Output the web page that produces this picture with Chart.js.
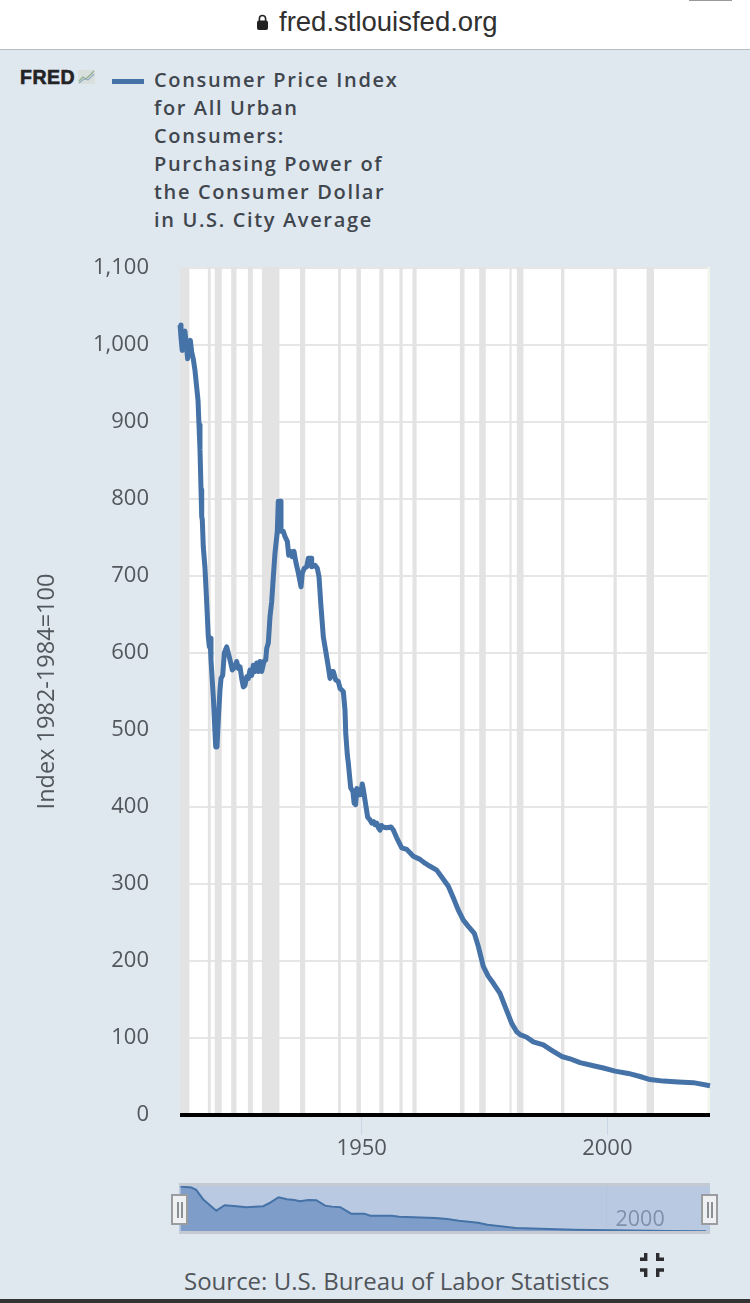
<!DOCTYPE html>
<html>
<head>
<meta charset="utf-8">
<title>FRED - Purchasing Power of the Consumer Dollar</title>
<script src="https://cdn.jsdelivr.net/npm/chart.js@4"></script>
<style>
  html, body { margin: 0; padding: 0; }
  body { width: 750px; height: 1303px; background: #dfe7ef; position: relative; overflow: hidden; font-family: "Open Sans", sans-serif; }
  .abs { position: absolute; }
  #topbar { left: 0; top: 0; width: 750px; height: 49px; background: #fff; border-bottom: 1px solid #b9bcbf; }
  #url { left: 279px; top: 6px; font: 27.5px/32px "Liberation Sans", sans-serif; color: #303030; white-space: nowrap; }
  #fred { left: 20px; top: 65px; font: bold 19.5px/24px "Liberation Sans", sans-serif; letter-spacing: 0.5px; -webkit-text-stroke: 0.6px #232326; color: #232326; }
  #legendLine { left: 112px; top: 78.5px; width: 32px; height: 5px; background: #4572a7; }
  #legendText { left: 154px; top: 66px; font: 600 20px/28px "Open Sans", sans-serif; letter-spacing: 1.65px; color: #3f464d; white-space: nowrap; }
  #mainChart { left: 0; top: 0; }
  #navBox { left: 179px; top: 1183px; width: 531px; height: 51px; background: #b9c9e1; }
  .handle { top: 1193.5px; width: 13px; height: 27px; background: #eef0f2; border: 2px solid #9a9c9f; }
  .grip { position: absolute; top: 6px; width: 1.5px; height: 16px; background: #8b8e92; }
  #source { left: 184px; top: 1266px; font: 24px/30px "Open Sans", sans-serif; color: #50555a; white-space: nowrap; }
  #bottomBar { left: 0; top: 1299px; width: 750px; height: 4px; background: #333; }
  #tab { left: 689px; top: 0; width: 43px; height: 1px; background: #999; }
</style>
</head>
<body>
<div class="abs" id="topbar"></div>
<div class="abs" id="tab"></div>
<svg class="abs" style="left:256px;top:14px" width="13" height="17" viewBox="0 0 13 17">
  <path d="M3.4 7V4.6a3.1 3.1 0 0 1 6.2 0V7" fill="none" stroke="#222" stroke-width="1.6"/>
  <rect x="1" y="6.6" width="11" height="9.4" rx="2" fill="#222"/>
</svg>
<div class="abs" id="url">fred.stlouisfed.org</div>
<div class="abs" id="fred">FRED</div>
<svg class="abs" style="left:78px;top:70px" width="17" height="14" viewBox="0 0 17 14">
  <rect x="0" y="0" width="17" height="14" fill="#d9dfdc"/>
  <path d="M1 11 L5 7 L8 9 L16 1" fill="none" stroke="#8fb08a" stroke-width="1.2"/>
  <path d="M1 13 L6 9 L10 10 L16 4" fill="none" stroke="#8fa9c4" stroke-width="1.1"/>
</svg>
<div class="abs" id="legendLine"></div>
<div class="abs" id="legendText">Consumer Price Index<br>for All Urban<br>Consumers:<br>Purchasing Power of<br>the Consumer Dollar<br>in U.S. City Average</div>

<canvas class="abs" id="mainChart" width="750" height="1165" style="width:750px;height:1165px"></canvas>

<div class="abs" id="navBox"><canvas id="navChart" width="531" height="51" style="width:531px;height:51px;display:block"></canvas></div>
<div class="abs handle" style="left:171px"><span class="grip" style="left:4px"></span><span class="grip" style="left:8px"></span></div>
<div class="abs handle" style="left:701px"><span class="grip" style="left:4px"></span><span class="grip" style="left:8px"></span></div>

<div class="abs" id="source">Source: U.S. Bureau of Labor Statistics</div>
<svg class="abs" style="left:640px;top:1253px" width="24" height="24" viewBox="0 0 24 24" fill="#2a2c2f">
  <path d="M4 0h3.4v8H0V4.5h4z"/><path d="M16 0h3.4v4.5H24V8h-8z"/>
  <path d="M0 15.3h7.4V24H4v-5.3H0z"/><path d="M16 15.3h8v3.4h-4.6V24H16z"/>
</svg>
<div class="abs" id="bottomBar"></div>

<script>
// valores
const years = [1913.02, 1913.2, 1913.45, 1913.7, 1914.0, 1914.3, 1914.55, 1914.85, 1915.1, 1915.4, 1915.7, 1916.05, 1916.67, 1916.87, 1917.07, 1917.28,
  1917.42, 1917.54, 1917.74, 1918.09, 1918.44, 1918.76, 1918.97, 1919.11, 1919.31, 1919.78, 1920.27, 1920.53, 1920.8, 1921.14, 1921.35, 1921.69,
  1922.02, 1922.51, 1922.83, 1923.18, 1923.65, 1924.2, 1924.54, 1924.87, 1925.22, 1925.56, 1925.89, 1926.23, 1926.58, 1926.91, 1927.25, 1927.6,
  1927.92, 1928.27, 1928.62, 1928.94, 1929.29, 1929.63, 1930.1, 1930.45, 1930.65, 1930.98, 1931.32, 1931.67, 1932.0, 1932.34, 1932.81, 1933.01,
  1933.42, 1933.56, 1934.03, 1934.38, 1934.85, 1935.13, 1935.54, 1935.86, 1936.21, 1936.62, 1937.09, 1937.64, 1937.9, 1938.31, 1938.8, 1939.12,
  1939.67, 1939.81, 1940.49, 1940.95, 1941.3, 1941.65, 1942.18, 1942.73, 1943.19, 1943.54, 1943.89, 1944.21, 1944.7, 1945.23, 1945.58, 1946.25,
  1946.59, 1946.74, 1947.06, 1947.27, 1947.75, 1948.2, 1948.45, 1948.6, 1948.75, 1949.0, 1949.2, 1949.5, 1949.75, 1950.1, 1950.3, 1950.66,
  1951.2, 1951.6, 1952.03, 1952.4, 1952.7, 1953.05, 1953.4, 1953.72, 1954.0, 1954.27, 1955.08, 1955.96, 1956.43, 1957.12, 1958.14, 1959.16,
  1960.5, 1961.86, 1962.88, 1963.9, 1965.26, 1966.28, 1967.63, 1968.64, 1969.66,
  1970.68, 1971.7, 1972.92, 1973.73, 1974.75, 1975.77, 1976.79, 1978.15, 1979.17, 1980.53, 1981.55, 1982.36, 1983.58, 1984.93, 1986.97, 1988.68,
  1990.71, 1992.4, 1994.44, 1997.15, 1999.19, 2001.57, 2004.27, 2006.66, 2008.69, 2011.4, 2014.45, 2017.5, 2020.9];
const values = [1026, 1010, 993, 1015, 1018, 1000, 982, 1000, 1006, 990, 982, 967, 928, 896, 864, 812,
  777, 773, 738, 710, 665, 621, 608, 619, 591, 543, 478, 478, 513, 552, 567, 571,
  600, 608, 600, 591, 578, 582, 589, 580, 582, 567, 556, 558, 569, 567, 578, 571,
  584, 576, 587, 576, 589, 576, 589, 591, 606, 613, 647, 667, 699, 730, 758, 797,
  797, 758, 758, 751, 745, 727, 732, 725, 732, 717, 704, 686, 704, 710, 712, 723,
  723, 712, 714, 710, 699, 665, 621, 600, 582, 567, 576, 576, 565, 563, 554, 550,
  526, 496, 468, 457, 425, 420, 405, 412, 403, 424, 415, 420, 416, 430, 424, 409,
  387, 384, 379, 381, 377, 379, 373, 370, 376, 374, 373, 374, 370, 360, 347, 345,
  336, 332, 327, 323, 318, 309, 297, 282, 266,
  253, 245, 236, 219, 193, 180, 171, 158, 141, 119, 108, 104, 101, 95, 91, 84,
  76, 73, 68, 64, 61, 57, 54, 50, 46, 44, 43, 42, 38];

// serie agrupada do navegador (mais suave que a principal)
const navYears = [1913.1, 1915.3, 1916.3, 1917.7, 1920.4, 1922.1, 1924.6, 1926.5, 1930, 1931.4, 1933.1, 1934.8, 1936.3, 1937.5, 1939.2, 1940.8,
  1942.6, 1944, 1945.7, 1947.9, 1950.6, 1951.8, 1956.2, 1957.7, 1965, 1967.5, 1969.9, 1973.8, 1975.7, 1981.5, 1993.2, 2012.7, 2020.3];
const navValues = [1035, 1012, 961, 752, 496, 617, 595, 572, 595, 676, 797, 752, 736, 707, 736, 730,
  608, 586, 572, 429, 429, 384, 384, 361, 332, 310, 272, 227, 182, 108, 70, 40, 34];

// recessoes (faixas cinza)
const recessionStart = [1913.0, 1918.67, 1920.08, 1923.42, 1926.83, 1929.67, 1937.42, 1945.17, 1948.92, 1953.58, 1957.67, 1960.33, 1969.98, 1973.92, 1980.08, 1981.58, 1990.58, 2001.25, 2007.98];
const recessionEnd = [1914.92, 1919.25, 1921.5, 1924.5, 1927.83, 1933.25, 1938.5, 1945.75, 1949.83, 1954.42, 1958.33, 1961.17, 1970.92, 1975.25, 1980.5, 1982.92, 1991.25, 2001.92, 2009.5];

const yTickValues = [0, 100, 200, 300, 400, 500, 600, 700, 800, 900, 1000, 1100];
const xTickValues = [1950, 2000];
const navTickValues = [2000];

const COR_LINHA = '#4572a7';
const COR_TEXTO = '#52575d';

// fundo branco, faixas de recessao e linha preta do eixo
const bandsPlugin = {
  id: 'bands',
  beforeDraw(chart) {
    const a = chart.chartArea;
    chart.ctx.fillStyle = '#fff';
    chart.ctx.fillRect(a.left, a.top - 1, a.right - a.left, a.bottom - a.top + 1);
  },
  beforeDatasetsDraw(chart) {
    const a = chart.chartArea, x = chart.scales.x, c = chart.ctx;
    c.fillStyle = '#e3e3e3';
    recessionStart.forEach((s, i) => {
      const x0 = x.getPixelForValue(s), x1 = x.getPixelForValue(recessionEnd[i]);
      c.fillRect(x0, a.top - 1, x1 - x0, a.bottom - a.top + 1);
    });
    // faixa clarinha de 2020 na borda direita
    c.fillStyle = '#f3f6ea';
    c.fillRect(a.right - 2.5, a.top - 1, 2.5, a.bottom - a.top + 1);
  },
  afterDatasetsDraw(chart) {
    const a = chart.chartArea, c = chart.ctx;
    c.fillStyle = '#000';
    c.fillRect(a.left, a.bottom - 2, a.right - a.left, 4);
  }
};

new Chart(document.getElementById('mainChart'), {
  type: 'line',
  data: {
    datasets: [{
      label: 'Consumer Price Index for All Urban Consumers: Purchasing Power of the Consumer Dollar in U.S. City Average',
      data: years.map((y, i) => ({ x: y, y: values[i] })),
      borderColor: COR_LINHA,
      borderWidth: 5,
      pointRadius: 0,
      tension: 0,
      borderJoinStyle: 'round',
      clip: false
    }]
  },
  plugins: [bandsPlugin],
  options: {
    responsive: false,
    animation: false,
    layout: { padding: { top: 268, right: 40, left: 0, bottom: 0 } },
    plugins: { legend: { display: false }, tooltip: { enabled: false } },
    scales: {
      x: {
        type: 'linear',
        min: 1913,
        max: 2020.9,
        afterBuildTicks(s) { s.ticks = xTickValues.map(v => ({ value: v })); },
        afterFit(s) { s.height = 50; },
        border: { display: false },
        grid: { drawOnChartArea: false, color: '#c9d6e6', tickColor: '#c9d6e6', tickLength: 20, lineWidth: 1 },
        ticks: { color: COR_TEXTO, font: { family: '"Open Sans"', size: 22 }, padding: 1, maxRotation: 0, autoSkip: false, callback: v => String(v) }
      },
      y: {
        min: 0,
        max: 1100,
        afterBuildTicks(s) { s.ticks = yTickValues.map(v => ({ value: v })); },
        afterFit(s) { s.width = 180; },
        border: { display: false },
        grid: { color: '#e6e6e6', lineWidth: 2, drawTicks: false },
        ticks: { color: COR_TEXTO, font: { family: '"Open Sans"', size: 22 }, padding: 31, autoSkip: false, callback: v => v.toLocaleString('en-US') },
        title: { display: true, text: 'Index 1982-1984=100', color: COR_TEXTO, font: { family: '"Open Sans"', size: 23.5 }, padding: { top: 33, bottom: 0 } }
      }
    }
  }
});

// navegador
const navLabelPlugin = {
  id: 'navLabel',
  afterDatasetsDraw(chart) {
    const x = chart.scales.x, c = chart.ctx;
    c.fillStyle = 'rgba(85,105,135,0.6)';
    c.font = '21.5px "Open Sans"';
    c.textBaseline = 'alphabetic';
    navTickValues.forEach(v => c.fillText(String(v), x.getPixelForValue(v) + 9, 43));
    c.fillStyle = '#c4c9d2';
    c.fillRect(0, 0, chart.width, 3);
    c.fillRect(0, chart.height - 3, chart.width, 3);
  }
};

new Chart(document.getElementById('navChart'), {
  type: 'line',
  data: {
    datasets: [{
      data: navYears.map((y, i) => ({ x: y, y: navValues[i] })),
      borderColor: '#4572a7',
      backgroundColor: '#7f9dc9',
      borderWidth: 2,
      pointRadius: 0,
      tension: 0,
      fill: 'start'
    }]
  },
  plugins: [navLabelPlugin],
  options: {
    responsive: false,
    animation: false,
    layout: { padding: { left: 1, right: 1, top: 0, bottom: 0 } },
    plugins: { legend: { display: false }, tooltip: { enabled: false } },
    scales: {
      x: {
        type: 'linear',
        min: 1913,
        max: 2020.9,
        afterBuildTicks(s) { s.ticks = navTickValues.map(v => ({ value: v })); },
        afterFit(s) { s.height = 0; },
        border: { display: false },
        grid: { color: 'rgba(170,190,220,0.45)', drawTicks: false },
        ticks: { display: false }
      },
      y: {
        min: -27,
        max: 1115,
        display: false
      }
    }
  }
});
</script>
</body>
</html>
